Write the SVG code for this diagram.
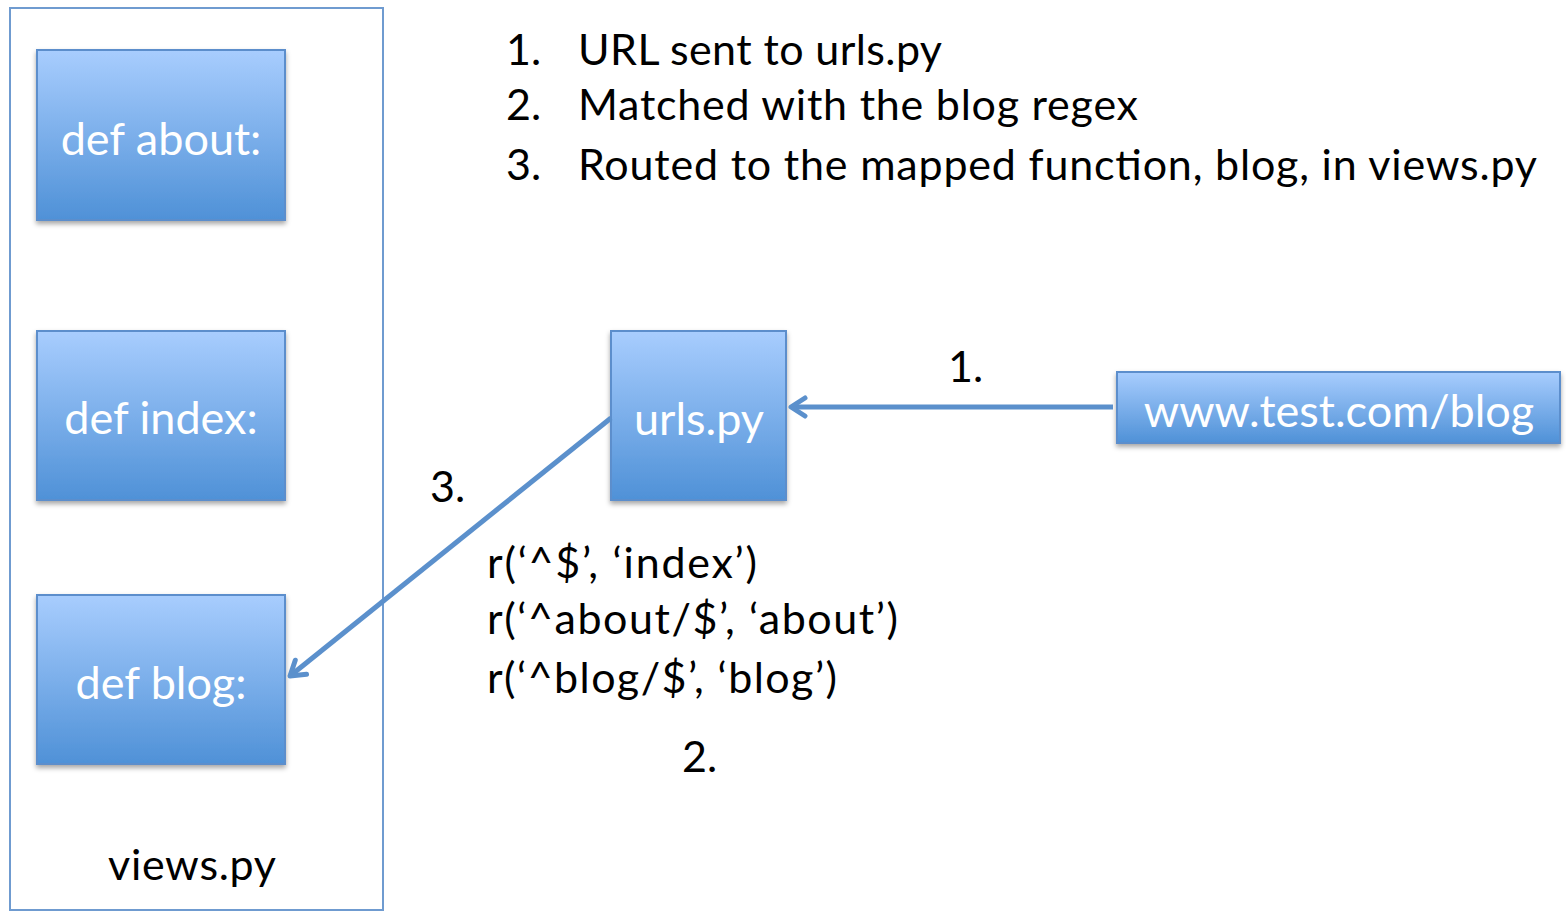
<svg xmlns="http://www.w3.org/2000/svg" width="1566" height="914" viewBox="0 0 1566 914">
<defs>
<linearGradient id="g" x1="0" y1="0" x2="0" y2="1">
<stop offset="0" stop-color="#a8cdfe"/>
<stop offset="1" stop-color="#4f91d7"/>
</linearGradient>
<filter id="sh" x="-10%" y="-10%" width="120%" height="130%">
<feDropShadow dx="0" dy="3" stdDeviation="2.5" flood-color="#000" flood-opacity="0.35"/>
</filter>
<marker id="ah" viewBox="0 0 24 24" refX="19" refY="12" markerWidth="24" markerHeight="24" markerUnits="userSpaceOnUse" orient="auto">
<path d="M5 3 L19 12 L5 21" fill="none" stroke="#5b90cc" stroke-width="5" stroke-linecap="round" stroke-linejoin="round"/>
</marker>
</defs>
<style>
.box{fill:url(#g);stroke:#5b8ecc;stroke-width:2;filter:url(#sh)}
.wt{fill:#fff;font-family:Lato,"Open Sans",sans-serif;font-size:45px;text-anchor:middle}
.bt{fill:#000;font-family:Lato,"Open Sans",sans-serif;font-size:43px}
.conn{stroke:#5b90cc;stroke-width:5;fill:none}
</style>
<rect width="1566" height="914" fill="#fff"/>
<g id="views">
<rect x="10" y="8" width="373" height="902" fill="none" stroke="#6f9bd0" stroke-width="2"/>
<text class="bt" x="108" y="880" textLength="168">views.py</text>
</g>
<g id="about">
<rect class="box" x="37" y="50" width="248" height="170"/>
<text class="wt" x="161" y="155">def about:</text>
</g>
<g id="index">
<rect class="box" x="37" y="331" width="248" height="169"/>
<text class="wt" x="161" y="434">def index:</text>
</g>
<g id="blog">
<rect class="box" x="37" y="595" width="248" height="169"/>
<text class="wt" x="161" y="699">def blog:</text>
</g>
<g id="urls">
<rect class="box" x="611" y="331" width="175" height="169"/>
<text class="wt" x="699" y="435">urls.py</text>
</g>
<g id="url">
<rect class="box" x="1117" y="372" width="443" height="71"/>
<text class="wt" x="1339" y="427">www.test.com/blog</text>
</g>
<g id="connectors">
<line class="conn" x1="1113" y1="407" x2="791" y2="407" marker-end="url(#ah)"/>
<line class="conn" x1="611" y1="418" x2="290" y2="676" marker-end="url(#ah)"/>
</g>
<g id="labels">
<text class="bt" x="948" y="382">1.</text>
<text class="bt" x="430" y="502">3.</text>
<text class="bt" x="682" y="772">2.</text>
<text class="bt" x="487" y="578" textLength="270">r(‘^$’, ‘index’)</text>
<text class="bt" x="487" y="634" textLength="411">r(‘^about/$’, ‘about’)</text>
<text class="bt" x="487" y="693" textLength="350">r(‘^blog/$’, ‘blog’)</text>
</g>
<g id="steps">
<text class="bt" x="506" y="65">1.</text>
<text class="bt" x="578" y="65" textLength="364">URL sent to urls.py</text>
<text class="bt" x="506" y="120">2.</text>
<text class="bt" x="578" y="120" textLength="560">Matched with the blog regex</text>
<text class="bt" x="506" y="180">3.</text>
<text class="bt" x="578" y="180" textLength="959">Routed to the mapped function, blog, in views.py</text>
</g>
</svg>
